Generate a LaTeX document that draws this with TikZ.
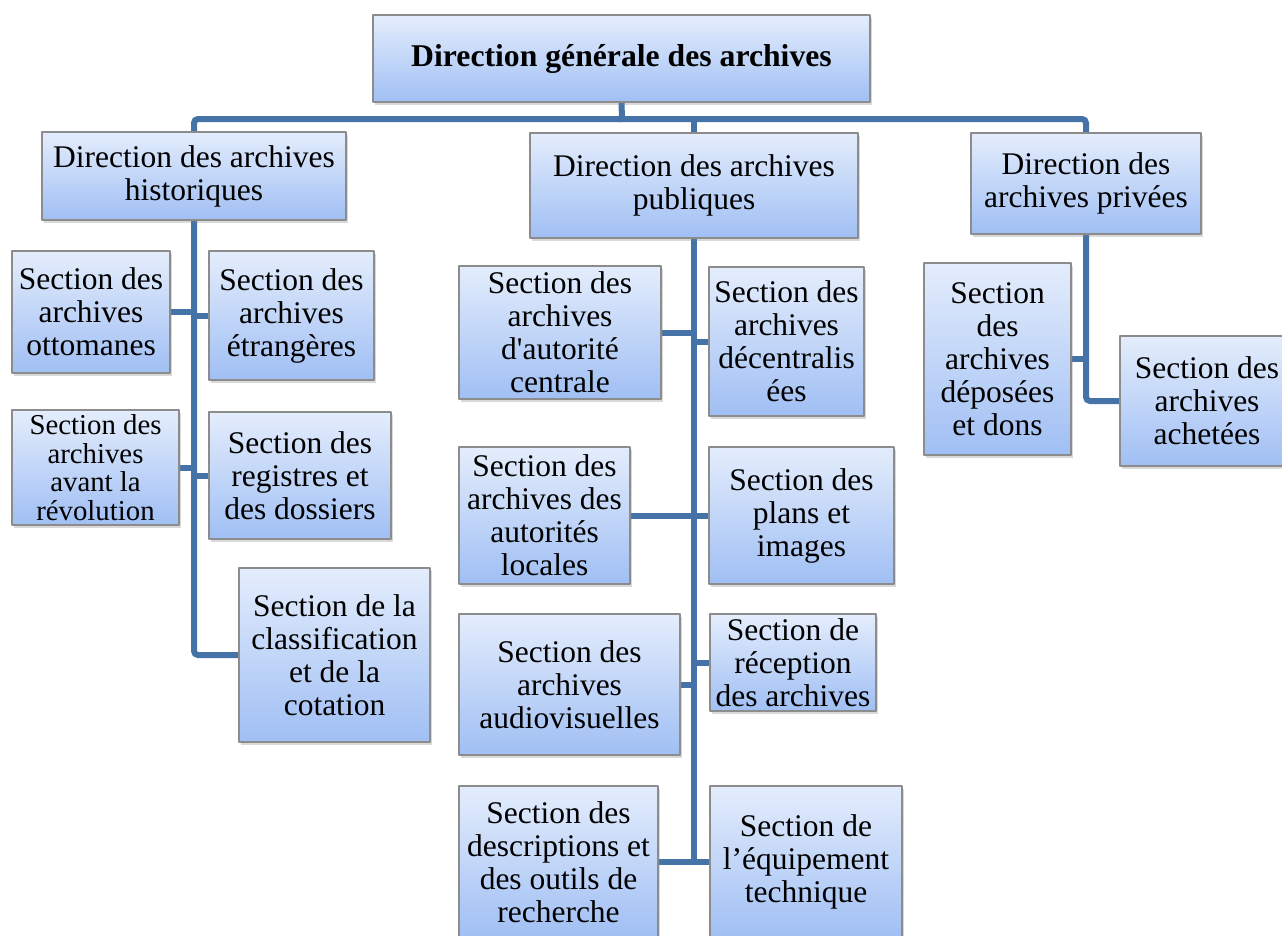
\documentclass[tikz,border=0pt]{standalone}
\usepackage{fontspec}
\setmainfont{Liberation Serif}
\usetikzlibrary{shadows}
\pgfdeclarelayer{background}
\pgfsetlayers{background,main}
\definecolor{linkblue}{RGB}{69,114,167}
\definecolor{boxtop}{RGB}{228,237,252}
\definecolor{boxbot}{RGB}{160,191,244}
\definecolor{boxline}{RGB}{140,140,140}
\begin{document}
\begin{tikzpicture}[x=1pt,y=-1pt,line join=round,
	box/.style 2 args={draw=boxline,line width=1.2pt,top color=boxtop,bottom color=boxbot,
		minimum width=#1pt,minimum height=#2pt,inner sep=1pt,align=center,
		font=\fontsize{31.5}{33}\selectfont,
		drop shadow={shadow xshift=2pt,shadow yshift=-3pt,opacity=0.3}},
	link/.style={draw=linkblue,line width=6pt,line cap=rect}]
	\path[use as bounding box](0,0)rectangle(1282,935);
	\clip(0,0)rectangle(1282,935);
	%%%%%%%%%%%%% Direction générale
	\node[box={497}{87},font=\fontsize{31.7}{33}\selectfont\bfseries](dga) at (621.5,58.5){Direction générale des archives};
	%%%%%%%%%%%%% Trois directions
	\node[box={304}{88}](hist) at (194,176){Direction des archives\\historiques};
	\node[box={328}{105}](pub) at (694,185.5){Direction des archives\\publiques};
	\node[box={230}{101}](priv) at (1086,183.5){Direction des\\archives privées};
	%%%%%%%%%%%%% Archives historiques
	\node[box={158}{122}](otto) at (91,312){Section des\\archives\\ottomanes};
	\node[box={165}{129}](etr) at (291.5,315.5){Section des\\archives\\étrangères};
	\node[box={167}{115},font=\fontsize{28.8}{28.5}\selectfont](rev) at (95.5,467.5){Section des\\archives\\avant la\\révolution};
	\node[box={182}{127}](reg) at (300,475.5){Section des\\registres et\\des dossiers};
	\node[box={191}{174}](class) at (334.5,655){Section de la\\classification\\et de la\\cotation};
	%%%%%%%%%%%%% Archives publiques
	\node[box={202}{133}](centr) at (560,332.5){Section des\\archives\\d\textquotesingle autorité\\centrale};
	\node[box={155}{149}](decentr) at (786.5,341.5){Section des\\archives\\décentralis\\ées};
	\node[box={171}{137}](locales) at (544.5,515.5){Section des\\archives des\\autorités\\locales};
	\node[box={185}{137}](plans) at (801.5,515.5){Section des\\plans et\\images};
	\node[box={221}{141}](audio) at (569.5,684.5){Section des\\archives\\audiovisuelles};
	\node[box={166}{97},inner ysep=0pt](recep) at (793,662.5){Section de\\réception\\des archives};
	\node[box={199}{152}](descr) at (558.5,862){Section des\\descriptions et\\des outils de\\recherche};
	\node[box={192}{152}](equip) at (806,862){Section de\\l’équipement\\technique};
	%%%%%%%%%%%%% Archives privées
	\node[box={147}{192}](depos) at (997.5,359){Section\\des\\archives\\déposées\\et dons};
	\node[box={174}{130}](achet) at (1207,401){Section des\\archives\\achetées};
	%%%%%%%%%%%%% Liens
	\begin{pgfonlayer}{background}
		\coordinate(bus) at (622,119);
		\draw[link,rounded corners=4pt](hist.north)|-(bus)-|(priv.north);
		\draw[link](dga.south)--(bus);
		\draw[link](pub.north)--(pub.north|-bus);
		\draw[link,rounded corners=4pt](hist.south)|-(class.west);
		\foreach \n in {otto,rev}
		\draw[link](\n.east)--(\n.east-|hist.south);
		\foreach \n in {etr,reg}
		\draw[link](\n.west)--(\n.west-|hist.south);
		\draw[link](pub.south)--(pub.south|-equip.west);
		\foreach \n in {centr,locales,audio,descr}
		\draw[link](\n.east)--(\n.east-|pub.south);
		\foreach \n in {decentr,plans,recep,equip}
		\draw[link](\n.west)--(\n.west-|pub.south);
		\draw[link,rounded corners=4pt](priv.south)|-(achet.west);
		\draw[link](depos.east)--(depos.east-|priv.south);
	\end{pgfonlayer}
\end{tikzpicture}
\end{document}
